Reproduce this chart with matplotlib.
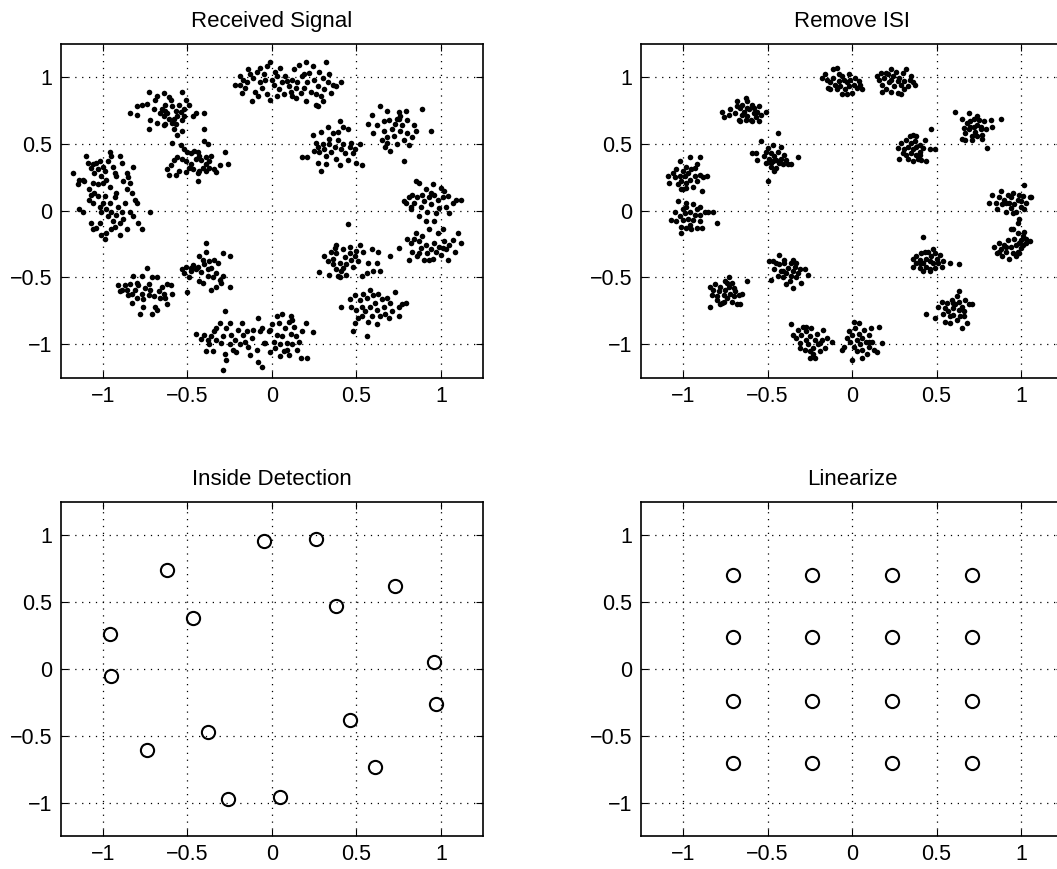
import matplotlib
matplotlib.use("Agg")
import matplotlib.pyplot as plt
import numpy as np

plt.rcParams['font.family'] = ['Liberation Sans', 'DejaVu Sans']

# Received signal samples (one block per cluster)
received_pts = [
    # (-0.05, 0.96)
    (-0.22, 0.94), (-0.19, 0.94), (-0.18, 0.88), (-0.17, 0.98), (-0.16, 0.92), (-0.14, 1.06), (-0.13, 1.02),
    (-0.12, 0.82), (-0.11, 0.99), (-0.10, 0.89), (-0.09, 1.04), (-0.08, 0.86), (-0.07, 0.96), (-0.06, 0.92),
    (-0.05, 1.02), (-0.03, 1.08), (-0.03, 0.87), (-0.01, 1.11), (-0.01, 0.83), (0.00, 0.98), (0.01, 0.94),
    (0.02, 1.04), (0.03, 1.01), (0.03, 0.86), (0.04, 0.91), (0.05, 1.07), (0.06, 0.96), (0.07, 0.87),
    (0.08, 1.01), (0.09, 0.97), (-0.07, 1.07), (-0.15, 0.96), (-0.19, 1.01), (-0.04, 0.98),
    # (0.26, 0.97)
    (0.10, 0.93), (0.11, 0.89), (0.12, 0.98), (0.13, 1.06), (0.14, 0.92), (0.15, 0.96), (0.16, 1.09),
    (0.17, 0.88), (0.18, 1.01), (0.19, 0.92), (0.20, 1.11), (0.20, 0.82), (0.21, 0.96), (0.22, 1.03),
    (0.23, 0.89), (0.24, 1.08), (0.25, 0.98), (0.26, 0.79), (0.26, 0.87), (0.27, 0.93), (0.28, 1.04),
    (0.29, 0.86), (0.30, 0.99), (0.31, 0.91), (0.32, 1.11), (0.33, 0.96), (0.34, 1.02), (0.35, 0.88),
    (0.36, 0.94), (0.38, 0.93), (0.41, 0.96), (0.27, 0.78), (0.12, 0.86), (0.14, 0.84), (0.30, 0.82),
    (0.19, 1.02),
    # (-0.62, 0.74)
    (-0.73, 0.89), (-0.68, 0.86), (-0.64, 0.88), (-0.61, 0.85), (-0.60, 0.83), (-0.53, 0.89), (-0.51, 0.83),
    (-0.49, 0.79), (-0.52, 0.76), (-0.55, 0.79), (-0.57, 0.75), (-0.59, 0.78), (-0.63, 0.79), (-0.65, 0.76),
    (-0.66, 0.73), (-0.64, 0.71), (-0.62, 0.73), (-0.61, 0.69), (-0.58, 0.69), (-0.56, 0.71), (-0.54, 0.74),
    (-0.52, 0.71), (-0.53, 0.68), (-0.57, 0.65), (-0.59, 0.66), (-0.63, 0.65), (-0.64, 0.64), (-0.68, 0.66),
    (-0.72, 0.68), (-0.73, 0.61), (-0.80, 0.72), (-0.84, 0.73), (-0.80, 0.78), (-0.77, 0.79), (-0.74, 0.80),
    (-0.70, 0.76), (-0.69, 0.83), (-0.47, 0.71), (-0.45, 0.73), (-0.40, 0.73), (-0.40, 0.61), (-0.56, 0.57),
    (-0.53, 0.60), (-0.58, 0.61), (-0.63, 0.75),
    # (-0.47, 0.38)
    (-0.59, 0.51), (-0.54, 0.49), (-0.52, 0.46), (-0.50, 0.44), (-0.48, 0.43), (-0.46, 0.45), (-0.44, 0.44),
    (-0.40, 0.52), (-0.38, 0.50), (-0.43, 0.41), (-0.45, 0.39), (-0.42, 0.38), (-0.39, 0.40), (-0.36, 0.41),
    (-0.37, 0.37), (-0.39, 0.35), (-0.41, 0.32), (-0.43, 0.30), (-0.44, 0.28), (-0.47, 0.31), (-0.49, 0.32),
    (-0.51, 0.29), (-0.55, 0.30), (-0.57, 0.27), (-0.61, 0.27), (-0.62, 0.31), (-0.60, 0.34), (-0.58, 0.38),
    (-0.56, 0.40), (-0.53, 0.39), (-0.51, 0.37), (-0.48, 0.35), (-0.34, 0.31), (-0.33, 0.29), (-0.31, 0.34),
    (-0.28, 0.44), (-0.26, 0.35), (-0.44, 0.22), (-0.39, 0.30), (-0.37, 0.32),
    # (-0.96, 0.26)
    (-1.18, 0.28), (-1.15, 0.20), (-1.12, 0.23), (-1.10, 0.41), (-1.07, 0.32), (-1.06, 0.35), (-1.05, 0.28),
    (-1.04, 0.36), (-1.03, 0.31), (-1.02, 0.37), (-1.01, 0.26), (-1.00, 0.33), (-0.99, 0.30), (-0.98, 0.23),
    (-0.97, 0.37), (-0.96, 0.44), (-0.95, 0.41), (-0.94, 0.33), (-0.93, 0.28), (-0.92, 0.26), (-0.90, 0.41),
    (-0.89, 0.36), (-0.88, 0.22), (-0.86, 0.28), (-0.85, 0.25), (-0.84, 0.21), (-0.82, 0.33), (-1.00, 0.21),
    (-1.03, 0.20), (-1.06, 0.21), (-1.08, 0.16), (-1.11, 0.22), (-1.09, 0.36), (-1.14, 0.23),
    # (-0.95, -0.05)
    (-1.14, 0.01), (-1.12, -0.01), (-1.08, 0.08), (-1.06, 0.06), (-1.05, 0.13), (-1.03, 0.11), (-1.02, 0.03),
    (-1.01, -0.01), (-1.00, 0.06), (-0.99, 0.11), (-0.98, 0.01), (-0.97, -0.04), (-0.96, 0.06), (-0.95, -0.01),
    (-0.94, -0.08), (-0.93, 0.10), (-0.92, -0.03), (-0.91, 0.03), (-0.90, -0.09), (-0.89, -0.01), (-0.88, -0.06),
    (-0.87, 0.06), (-0.86, -0.14), (-0.84, -0.01), (-0.82, -0.04), (-0.81, 0.08), (-0.79, -0.09), (-0.77, -0.14),
    (-0.80, 0.06), (-1.07, -0.09), (-1.06, -0.14), (-1.04, -0.13), (-1.02, -0.09), (-1.01, -0.18), (-0.99, -0.21),
    (-0.98, -0.17), (-0.95, -0.14), (-0.93, -0.12), (-0.90, -0.18), (-0.72, -0.01), (-1.07, 0.12), (-0.96, 0.18),
    (-0.92, 0.13), (-0.86, 0.16), (-0.83, 0.13),
    # (-0.74, -0.61)
    (-0.91, -0.56), (-0.90, -0.60), (-0.89, -0.59), (-0.87, -0.56), (-0.86, -0.59), (-0.84, -0.55), (-0.83, -0.62),
    (-0.83, -0.69), (-0.82, -0.49), (-0.81, -0.59), (-0.80, -0.54), (-0.80, -0.65), (-0.79, -0.56), (-0.78, -0.77),
    (-0.77, -0.49), (-0.77, -0.62), (-0.76, -0.66), (-0.75, -0.58), (-0.74, -0.43), (-0.73, -0.55), (-0.73, -0.63),
    (-0.72, -0.59), (-0.71, -0.77), (-0.71, -0.50), (-0.70, -0.64), (-0.69, -0.72), (-0.68, -0.50), (-0.68, -0.74),
    (-0.67, -0.60), (-0.66, -0.65), (-0.65, -0.57), (-0.64, -0.62), (-0.63, -0.65), (-0.62, -0.55), (-0.62, -0.70),
    (-0.60, -0.56), (-0.59, -0.62), (-0.85, -0.63), (-0.76, -0.72),
    # (-0.38, -0.47)
    (-0.53, -0.44), (-0.52, -0.47), (-0.51, -0.42), (-0.50, -0.61), (-0.49, -0.50), (-0.48, -0.43), (-0.47, -0.41),
    (-0.45, -0.44), (-0.44, -0.42), (-0.43, -0.34), (-0.43, -0.53), (-0.42, -0.46), (-0.41, -0.54), (-0.40, -0.40),
    (-0.39, -0.31), (-0.39, -0.24), (-0.38, -0.44), (-0.38, -0.49), (-0.37, -0.38), (-0.36, -0.59), (-0.35, -0.50),
    (-0.34, -0.37), (-0.33, -0.47), (-0.33, -0.57), (-0.32, -0.39), (-0.31, -0.52), (-0.30, -0.54), (-0.29, -0.32),
    (-0.29, -0.49), (-0.25, -0.57), (-0.25, -0.34), (-0.41, -0.37), (-0.36, -0.43), (-0.48, -0.45),
    # (-0.26, -0.97)
    (-0.45, -0.92), (-0.42, -0.96), (-0.40, -0.93), (-0.39, -1.05), (-0.37, -1.00), (-0.36, -0.94), (-0.35, -1.05),
    (-0.34, -0.90), (-0.33, -0.97), (-0.31, -0.84), (-0.30, -0.99), (-0.29, -0.94), (-0.28, -1.07), (-0.27, -0.88),
    (-0.27, -1.12), (-0.25, -1.00), (-0.25, -0.84), (-0.24, -0.93), (-0.23, -1.04), (-0.22, -0.97), (-0.21, -1.06),
    (-0.20, -0.89), (-0.19, -1.00), (-0.18, -0.84), (-0.17, -0.93), (-0.16, -0.98), (-0.15, -0.90), (-0.14, -1.02),
    (-0.13, -1.08), (-0.12, -0.95), (-0.11, -0.89), (-0.29, -1.19), (-0.28, -0.75), (-0.08, -1.13), (-0.06, -1.17),
    (-0.07, -0.90), (-0.05, -0.99), (-0.09, -1.04), (-0.33, -0.88), (-0.38, -0.97),
    # (0.05, -0.96)
    (-0.08, -0.80), (-0.06, -0.88), (-0.04, -0.99), (-0.02, -0.90), (-0.01, -1.06), (0.00, -0.85), (0.01, -0.98),
    (0.02, -1.03), (0.03, -0.93), (0.04, -0.84), (0.05, -1.00), (0.06, -0.77), (0.06, -0.94), (0.07, -1.05),
    (0.08, -0.88), (0.09, -0.99), (0.10, -0.83), (0.10, -1.08), (0.11, -0.92), (0.11, -0.79), (0.12, -1.00),
    (0.13, -0.87), (0.14, -0.94), (0.15, -1.04), (0.16, -0.98), (0.17, -1.10), (0.18, -0.90), (0.20, -0.84),
    (0.21, -1.10), (0.24, -0.91), (0.12, -0.82), (0.03, -0.79), (-0.01, -0.89), (0.09, -1.04), (0.05, -1.09),
    # (0.38, 0.47)
    (0.18, 0.40), (0.21, 0.40), (0.24, 0.57), (0.25, 0.45), (0.26, 0.51), (0.27, 0.48), (0.28, 0.44),
    (0.29, 0.59), (0.29, 0.30), (0.30, 0.50), (0.31, 0.46), (0.32, 0.41), (0.33, 0.63), (0.34, 0.50),
    (0.35, 0.44), (0.36, 0.58), (0.37, 0.48), (0.38, 0.39), (0.39, 0.53), (0.40, 0.67), (0.40, 0.34),
    (0.41, 0.46), (0.42, 0.63), (0.42, 0.50), (0.43, 0.43), (0.45, 0.61), (0.45, 0.38), (0.46, 0.48),
    (0.47, 0.51), (0.48, 0.43), (0.49, 0.46), (0.50, 0.36), (0.52, 0.50), (0.53, 0.34), (0.27, 0.36),
    (0.32, 0.35), (0.34, 0.54), (0.39, 0.59),
    # (0.73, 0.62)
    (0.57, 0.65), (0.59, 0.72), (0.60, 0.58), (0.62, 0.64), (0.64, 0.78), (0.65, 0.53), (0.66, 0.67),
    (0.66, 0.60), (0.67, 0.48), (0.68, 0.75), (0.68, 0.55), (0.69, 0.68), (0.70, 0.45), (0.71, 0.61),
    (0.72, 0.56), (0.73, 0.65), (0.74, 0.50), (0.75, 0.74), (0.75, 0.69), (0.76, 0.60), (0.77, 0.64),
    (0.78, 0.37), (0.78, 0.53), (0.79, 0.75), (0.80, 0.68), (0.80, 0.58), (0.81, 0.49), (0.83, 0.55),
    (0.84, 0.64), (0.85, 0.60), (0.89, 0.76), (0.94, 0.60), (0.68, 0.51), (0.74, 0.69), (0.76, 0.71),
    # (0.96, 0.05)
    (0.78, 0.07), (0.79, 0.06), (0.81, 0.10), (0.82, 0.01), (0.83, 0.12), (0.84, 0.06), (0.85, 0.22),
    (0.86, 0.10), (0.87, -0.04), (0.88, 0.03), (0.89, 0.12), (0.90, 0.07), (0.91, 0.16), (0.92, -0.01),
    (0.93, 0.10), (0.94, 0.05), (0.95, 0.20), (0.96, 0.12), (0.97, -0.02), (0.98, 0.08), (0.99, 0.02),
    (1.00, 0.17), (1.01, 0.10), (1.02, 0.15), (1.03, 0.03), (1.04, 0.11), (1.05, -0.02), (1.07, 0.06),
    (1.09, 0.08), (1.12, 0.08), (0.87, 0.21), (0.91, -0.08), (0.96, -0.08), (0.82, 0.03), (0.94, 0.13),
    # (0.97, -0.26)
    (0.70, -0.34), (0.75, -0.28), (0.80, -0.21), (0.81, -0.37), (0.82, -0.24), (0.83, -0.31), (0.85, -0.17),
    (0.86, -0.34), (0.87, -0.23), (0.88, -0.28), (0.89, -0.19), (0.90, -0.37), (0.91, -0.26), (0.92, -0.32),
    (0.93, -0.14), (0.94, -0.29), (0.95, -0.36), (0.96, -0.24), (0.97, -0.31), (0.98, -0.17), (0.99, -0.27),
    (1.00, -0.33), (1.01, -0.14), (1.02, -0.23), (1.03, -0.29), (1.04, -0.37), (1.05, -0.26), (1.07, -0.22),
    (1.08, -0.31), (1.10, -0.17), (1.12, -0.24), (0.87, -0.32), (0.93, -0.37), (1.01, -0.28), (0.84, -0.21),
    # (0.46, -0.38)
    (0.28, -0.46), (0.31, -0.34), (0.33, -0.38), (0.34, -0.48), (0.35, -0.31), (0.36, -0.40), (0.36, -0.36),
    (0.37, -0.28), (0.38, -0.44), (0.38, -0.32), (0.39, -0.49), (0.40, -0.39), (0.40, -0.50), (0.42, -0.29),
    (0.42, -0.43), (0.43, -0.35), (0.44, -0.40), (0.44, -0.48), (0.46, -0.32), (0.46, -0.27), (0.47, -0.37),
    (0.48, -0.42), (0.49, -0.34), (0.50, -0.30), (0.51, -0.38), (0.52, -0.26), (0.53, -0.49), (0.54, -0.31),
    (0.56, -0.47), (0.57, -0.39), (0.59, -0.29), (0.60, -0.45), (0.62, -0.39), (0.63, -0.31), (0.64, -0.45),
    (0.45, -0.10), (0.41, -0.45), (0.38, -0.26),
    # (0.61, -0.73)
    (0.41, -0.72), (0.46, -0.66), (0.47, -0.72), (0.48, -0.90), (0.49, -0.63), (0.49, -0.84), (0.50, -0.74),
    (0.51, -0.80), (0.52, -0.67), (0.53, -0.72), (0.54, -0.62), (0.55, -0.75), (0.56, -0.65), (0.56, -0.94),
    (0.57, -0.83), (0.58, -0.72), (0.59, -0.79), (0.60, -0.63), (0.61, -0.69), (0.62, -0.74), (0.62, -0.85),
    (0.63, -0.62), (0.64, -0.79), (0.65, -0.66), (0.66, -0.72), (0.67, -0.77), (0.68, -0.65), (0.69, -0.80),
    (0.70, -0.69), (0.71, -0.75), (0.73, -0.61), (0.75, -0.72), (0.75, -0.79), (0.77, -0.70), (0.79, -0.69),
    (0.58, -0.59), (0.53, -0.79),
]

# Samples after ISI removal
isi_pts = [
    (-0.18, 0.99), (-0.16, 1.02), (-0.15, 0.98), (-0.14, 0.92), (-0.13, 0.96), (-0.11, 1.06), (-0.11, 0.99),
    (-0.10, 0.94), (-0.09, 0.91), (-0.08, 1.02), (-0.08, 0.97), (-0.07, 0.93), (-0.06, 0.87), (-0.06, 1.01),
    (-0.05, 0.98), (-0.04, 0.91), (-0.03, 0.96), (-0.02, 1.02), (-0.02, 0.93), (-0.01, 0.98), (0.00, 0.88),
    (0.01, 0.94), (0.02, 0.99), (0.03, 0.92), (0.04, 0.97), (0.05, 0.94), (0.06, 0.91), (-0.09, 1.07),
    (-0.13, 0.91), (-0.03, 0.87),
    (0.15, 1.01), (0.16, 0.98), (0.17, 1.03), (0.18, 0.94), (0.19, 0.99), (0.20, 0.91), (0.21, 1.02),
    (0.22, 0.96), (0.23, 0.98), (0.23, 0.89), (0.24, 1.01), (0.25, 0.93), (0.26, 1.04), (0.27, 0.97),
    (0.27, 0.88), (0.28, 0.99), (0.29, 0.94), (0.30, 1.03), (0.31, 0.91), (0.31, 0.97), (0.32, 1.06),
    (0.33, 0.93), (0.34, 0.98), (0.35, 1.01), (0.36, 0.96), (0.37, 0.94), (0.18, 0.89), (0.23, 1.06),
    (0.29, 0.87), (0.20, 1.03),
    (-0.77, 0.74), (-0.76, 0.70), (-0.73, 0.72), (-0.72, 0.76), (-0.69, 0.73), (-0.68, 0.82), (-0.67, 0.68),
    (-0.66, 0.77), (-0.65, 0.72), (-0.65, 0.79), (-0.64, 0.74), (-0.63, 0.68), (-0.63, 0.84), (-0.62, 0.77),
    (-0.62, 0.71), (-0.61, 0.76), (-0.60, 0.68), (-0.59, 0.79), (-0.58, 0.73), (-0.58, 0.77), (-0.57, 0.70),
    (-0.56, 0.74), (-0.55, 0.78), (-0.54, 0.72), (-0.51, 0.74), (-0.66, 0.67), (-0.62, 0.82), (-0.68, 0.78),
    (-0.59, 0.67), (-0.55, 0.67),
    (-0.59, 0.43), (-0.57, 0.43), (-0.56, 0.38), (-0.54, 0.52), (-0.52, 0.41), (-0.51, 0.36), (-0.50, 0.22),
    (-0.50, 0.47), (-0.49, 0.39), (-0.48, 0.33), (-0.48, 0.43), (-0.47, 0.49), (-0.47, 0.37), (-0.46, 0.41),
    (-0.45, 0.32), (-0.44, 0.58), (-0.44, 0.44), (-0.43, 0.36), (-0.42, 0.39), (-0.42, 0.48), (-0.41, 0.35),
    (-0.40, 0.42), (-0.39, 0.38), (-0.38, 0.35), (-0.36, 0.35), (-0.32, 0.40), (-0.46, 0.30), (-0.51, 0.44),
    (-0.45, 0.38), (-0.48, 0.36),
    (-1.09, 0.26), (-1.08, 0.21), (-1.06, 0.28), (-1.05, 0.25), (-1.04, 0.31), (-1.03, 0.20), (-1.02, 0.26),
    (-1.02, 0.37), (-1.01, 0.22), (-1.00, 0.30), (-1.00, 0.16), (-0.99, 0.26), (-0.98, 0.33), (-0.98, 0.21),
    (-0.97, 0.28), (-0.96, 0.40), (-0.96, 0.23), (-0.95, 0.31), (-0.94, 0.18), (-0.93, 0.26), (-0.92, 0.35),
    (-0.92, 0.22), (-0.90, 0.40), (-0.90, 0.27), (-0.89, 0.15), (-0.88, 0.25), (-0.86, 0.26), (-1.01, 0.16),
    (-0.98, 0.17), (-0.93, 0.32),
    (-1.07, -0.07), (-1.05, -0.01), (-1.04, -0.08), (-1.03, 0.07), (-1.02, -0.04), (-1.01, -0.12), (-1.00, 0.01),
    (-1.00, -0.07), (-0.99, -0.02), (-0.98, -0.13), (-0.98, 0.03), (-0.97, -0.06), (-0.96, -0.11), (-0.96, -0.01),
    (-0.94, -0.07), (-0.94, 0.05), (-0.93, -0.03), (-0.92, -0.13), (-0.92, 0.01), (-0.90, -0.08), (-0.90, -0.03),
    (-0.89, -0.13), (-0.87, -0.01), (-0.85, -0.01), (-0.82, -0.01), (-0.80, -0.09), (-1.01, -0.17), (-0.95, -0.14),
    (-0.98, 0.06), (-0.90, 0.03),
    (-0.84, -0.57), (-0.83, -0.63), (-0.82, -0.59), (-0.81, -0.55), (-0.80, -0.67), (-0.79, -0.60), (-0.78, -0.57),
    (-0.77, -0.69), (-0.76, -0.63), (-0.75, -0.53), (-0.75, -0.59), (-0.74, -0.65), (-0.73, -0.57), (-0.73, -0.50),
    (-0.72, -0.62), (-0.71, -0.68), (-0.70, -0.58), (-0.70, -0.64), (-0.69, -0.60), (-0.68, -0.70), (-0.67, -0.63),
    (-0.66, -0.70), (-0.65, -0.62), (-0.62, -0.53), (-0.84, -0.72), (-0.78, -0.70), (-0.74, -0.54), (-0.71, -0.54),
    (-0.76, -0.68), (-0.80, -0.64),
    (-0.49, -0.38), (-0.48, -0.52), (-0.47, -0.38), (-0.46, -0.44), (-0.44, -0.49), (-0.43, -0.40), (-0.43, -0.33),
    (-0.42, -0.45), (-0.41, -0.50), (-0.40, -0.39), (-0.40, -0.37), (-0.39, -0.47), (-0.38, -0.43), (-0.37, -0.53),
    (-0.36, -0.39), (-0.36, -0.49), (-0.35, -0.58), (-0.35, -0.45), (-0.34, -0.42), (-0.33, -0.50), (-0.32, -0.47),
    (-0.31, -0.44), (-0.30, -0.54), (-0.28, -0.44), (-0.26, -0.48), (-0.39, -0.55), (-0.45, -0.39), (-0.35, -0.37),
    (-0.41, -0.45), (-0.33, -0.39),
    (-0.36, -0.85), (-0.35, -0.93), (-0.33, -0.95), (-0.32, -0.89), (-0.31, -0.99), (-0.30, -0.93), (-0.29, -0.87),
    (-0.28, -1.04), (-0.27, -0.97), (-0.27, -0.90), (-0.26, -1.00), (-0.25, -0.94), (-0.25, -1.10), (-0.24, -0.88),
    (-0.23, -1.03), (-0.22, -0.97), (-0.22, -1.10), (-0.21, -0.92), (-0.20, -1.00), (-0.19, -1.05), (-0.18, -0.97),
    (-0.17, -0.89), (-0.16, -1.03), (-0.15, -0.95), (-0.12, -0.98), (-0.31, -1.03), (-0.27, -0.87), (-0.23, -1.07),
    (-0.19, -0.99), (-0.25, -1.05),
    (-0.06, -1.04), (-0.05, -1.02), (-0.03, -0.95), (-0.02, -0.90), (-0.01, -0.98), (0.00, -1.12), (0.00, -0.93),
    (0.01, -1.02), (0.02, -0.88), (0.03, -0.97), (0.03, -1.05), (0.04, -0.84), (0.04, -0.92), (0.05, -1.00),
    (0.06, -0.95), (0.06, -1.04), (0.07, -0.89), (0.08, -0.98), (0.09, -1.07), (0.10, -0.93), (0.10, -1.02),
    (0.11, -0.88), (0.12, -0.98), (0.13, -1.04), (0.15, -1.06), (0.16, -0.87), (0.18, -0.99), (0.01, -0.83),
    (0.06, -1.10), (0.10, -0.98),
    (0.27, 0.47), (0.28, 0.39), (0.29, 0.51), (0.30, 0.43), (0.31, 0.46), (0.32, 0.53), (0.33, 0.39),
    (0.33, 0.48), (0.34, 0.56), (0.35, 0.43), (0.35, 0.51), (0.36, 0.37), (0.36, 0.46), (0.37, 0.52),
    (0.38, 0.42), (0.38, 0.48), (0.38, 0.56), (0.39, 0.39), (0.40, 0.49), (0.40, 0.44), (0.41, 0.38),
    (0.42, 0.47), (0.43, 0.53), (0.44, 0.37), (0.46, 0.46), (0.47, 0.61), (0.49, 0.46), (0.32, 0.42),
    (0.36, 0.57), (0.40, 0.42),
    (0.61, 0.74), (0.65, 0.69), (0.65, 0.54), (0.66, 0.62), (0.67, 0.58), (0.68, 0.66), (0.69, 0.73),
    (0.69, 0.61), (0.70, 0.67), (0.71, 0.56), (0.72, 0.63), (0.72, 0.69), (0.73, 0.59), (0.74, 0.64),
    (0.74, 0.56), (0.75, 0.68), (0.76, 0.61), (0.76, 0.63), (0.77, 0.57), (0.78, 0.67), (0.79, 0.61),
    (0.80, 0.47), (0.82, 0.68), (0.83, 0.63), (0.88, 0.69), (0.67, 0.53), (0.71, 0.53), (0.77, 0.54),
    (0.74, 0.71), (0.70, 0.63),
    (0.81, 0.06), (0.83, 0.12), (0.85, 0.06), (0.86, 0.01), (0.87, 0.10), (0.88, 0.15), (0.89, 0.05),
    (0.90, 0.08), (0.91, -0.01), (0.92, 0.12), (0.93, 0.06), (0.94, 0.02), (0.94, 0.10), (0.95, 0.13),
    (0.96, 0.05), (0.97, -0.01), (0.98, 0.08), (0.98, -0.09), (0.99, 0.12), (1.00, 0.03), (1.00, 0.07),
    (1.01, 0.11), (1.02, 0.01), (1.03, 0.06), (1.05, 0.10), (1.06, 0.10), (1.02, 0.19), (0.99, -0.06),
    (0.95, -0.02), (0.91, 0.06),
    (0.84, -0.27), (0.86, -0.32), (0.87, -0.24), (0.88, -0.29), (0.89, -0.34), (0.90, -0.26), (0.91, -0.31),
    (0.92, -0.22), (0.93, -0.36), (0.94, -0.14), (0.94, -0.27), (0.95, -0.32), (0.96, -0.21), (0.97, -0.26),
    (0.98, -0.31), (0.98, -0.17), (0.99, -0.24), (1.00, -0.28), (1.00, -0.22), (1.01, -0.26), (1.02, -0.16),
    (1.03, -0.21), (1.03, -0.24), (1.05, -0.23), (0.95, -0.14), (0.91, -0.27), (0.97, -0.34), (1.01, -0.19),
    (0.87, -0.31), (0.99, -0.32),
    (0.36, -0.36), (0.36, -0.42), (0.38, -0.39), (0.38, -0.34), (0.40, -0.43), (0.40, -0.37), (0.41, -0.32),
    (0.42, -0.45), (0.42, -0.20), (0.42, -0.39), (0.44, -0.36), (0.44, -0.42), (0.45, -0.31), (0.46, -0.38),
    (0.46, -0.44), (0.47, -0.34), (0.48, -0.39), (0.48, -0.29), (0.49, -0.43), (0.50, -0.36), (0.51, -0.39),
    (0.52, -0.33), (0.53, -0.42), (0.54, -0.38), (0.58, -0.39), (0.63, -0.40), (0.43, -0.31), (0.49, -0.32),
    (0.40, -0.39), (0.46, -0.45),
    (0.44, -0.77), (0.49, -0.80), (0.51, -0.72), (0.53, -0.68), (0.54, -0.77), (0.55, -0.73), (0.55, -0.83),
    (0.56, -0.69), (0.57, -0.75), (0.58, -0.79), (0.59, -0.67), (0.60, -0.73), (0.60, -0.78), (0.61, -0.70),
    (0.62, -0.82), (0.62, -0.64), (0.63, -0.74), (0.63, -0.68), (0.64, -0.79), (0.65, -0.88), (0.65, -0.72),
    (0.66, -0.75), (0.67, -0.67), (0.68, -0.84), (0.69, -0.70), (0.71, -0.70), (0.63, -0.60), (0.58, -0.84),
    (0.60, -0.69), (0.66, -0.79),
]

# detected symbol centres
detect_x = [-0.05, 0.26, -0.62, 0.73, 0.38, -0.47, -0.96, -0.95, 0.96, 0.97, 0.46, -0.38, -0.74, 0.61, -0.26, 0.05]
detect_y = [0.96, 0.97, 0.74, 0.62, 0.47, 0.38, 0.26, -0.05, 0.05, -0.26, -0.38, -0.47, -0.61, -0.73, -0.97, -0.96]

# linearized 16-QAM levels
linear_levels = [-0.707, -0.236, 0.236, 0.707]

tick_vals = [-1, -0.5, 0, 0.5, 1]
tick_labels = ['\u22121', '\u22120.5', '0', '0.5', '1']
titles = ['Received Signal', 'Remove ISI', 'Inside Detection', 'Linearize']


def style_axes(ax, title):
    ax.set_xlim(-1.25, 1.25)
    ax.set_ylim(-1.25, 1.25)
    ax.set_xticks(tick_vals)
    ax.set_yticks(tick_vals)
    ax.set_xticklabels(tick_labels)
    ax.set_yticklabels(tick_labels)
    ax.tick_params(direction='in', length=5, width=0.8, top=True, right=True,
                   labelsize=15.5, pad=6, colors='black')
    ax.grid(True, color='black', linestyle=(0, (1, 4.5)), linewidth=0.9)
    ax.set_axisbelow(True)
    for sp in ax.spines.values():
        sp.set_linewidth(1.2)
    ax.set_title(title, fontsize=16, pad=12)


fig = plt.figure(figsize=(10.57, 8.69), dpi=100)
w, h = 0.3998, 0.3843
ax1 = fig.add_axes([0.0574, 0.5654, w, h])
ax2 = fig.add_axes([0.6062, 0.5654, w, h])
ax3 = fig.add_axes([0.0574, 0.0380, w, h])
ax4 = fig.add_axes([0.6062, 0.0380, w, h])

rx = np.array(received_pts)
ax1.plot(rx[:, 0], rx[:, 1], 'o', color='black', markersize=4.0, markeredgewidth=0)
style_axes(ax1, titles[0])

isi = np.array(isi_pts)
ax2.plot(isi[:, 0], isi[:, 1], 'o', color='black', markersize=4.0, markeredgewidth=0)
style_axes(ax2, titles[1])

ax3.plot(detect_x, detect_y, 'o', markerfacecolor='none', markeredgecolor='black',
         markersize=9.5, markeredgewidth=1.5)
style_axes(ax3, titles[2])

gx, gy = np.meshgrid(linear_levels, linear_levels)
ax4.plot(gx.ravel(), gy.ravel(), 'o', markerfacecolor='none', markeredgecolor='black',
         markersize=9.5, markeredgewidth=1.5)
style_axes(ax4, titles[3])

fig.savefig('out.png', dpi=100)
